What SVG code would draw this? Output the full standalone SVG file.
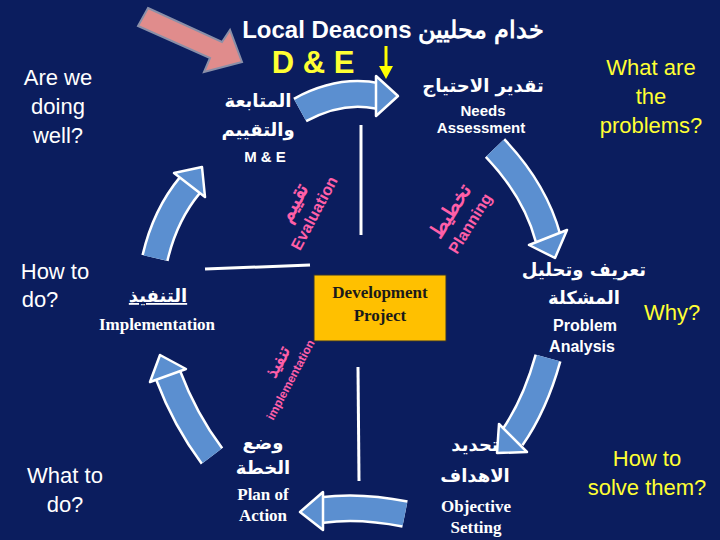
<svg xmlns="http://www.w3.org/2000/svg" width="720" height="540" viewBox="0 0 720 540">
<style>
.w{fill:#fff;font-family:"Liberation Sans","Noto Sans",sans-serif;font-weight:bold;text-anchor:middle}
.ar{fill:#fff;font-family:"DejaVu Sans","Noto Sans",sans-serif;font-weight:bold;text-anchor:middle;font-size:18px}
.t{fill:#fff;font-family:"Liberation Serif",serif;font-weight:bold;text-anchor:middle;font-size:17px}
.q{fill:#fff;font-family:"Liberation Sans",sans-serif;font-size:22px;text-anchor:middle}
.y{fill:#ffff33;font-family:"Liberation Sans",sans-serif;font-size:22px;text-anchor:middle}
.p{fill:#ff5fa8;font-family:"Liberation Sans",sans-serif;font-weight:bold;text-anchor:middle}
.bo{fill:none;stroke:#fff;stroke-width:28}
.bi{fill:none;stroke:#5b8fd0;stroke-width:23}
.hd{fill:#5b8fd0;stroke:#fff;stroke-width:2.5;stroke-linejoin:round}
.ln{stroke:#fff;stroke-width:3}
</style>
<rect width="720" height="540" fill="#0b1d5e"/>
<g id="connectors">
<path class="bo" d="M300,110 Q340,88 378,96"/><path class="bi" d="M300,110 Q340,88 378,96"/><polygon class="hd" points="398,96 376,76 376,116"/>
<path class="bo" d="M495,148 Q535,190 548,238"/><path class="bi" d="M495,148 Q535,190 548,238"/><polygon class="hd" points="555,258 567,230 529,245"/>
<path class="bo" d="M548,358 Q535,405 512,438"/><path class="bi" d="M548,358 Q535,405 512,438"/><polygon class="hd" points="497,453 527,452 499,424"/>
<path class="bo" d="M405,514 Q360,505 322,510"/><path class="bi" d="M405,514 Q360,505 322,510"/><polygon class="hd" points="300,512 323,492 323,530"/>
<path class="bo" d="M212,456 Q185,420 168,375"/><path class="bi" d="M212,456 Q185,420 168,375"/><polygon class="hd" points="160,355 186,369 150,382"/>
<path class="bo" d="M155,258 Q165,215 190,185"/><path class="bi" d="M155,258 Q165,215 190,185"/><polygon class="hd" points="202,167 205,197 174,173"/>
<line class="ln" x1="361" y1="125" x2="361" y2="235"/>
<line class="ln" x1="205" y1="269" x2="310" y2="265"/>
<line class="ln" x1="358" y1="367" x2="359" y2="481"/>
<polygon points="148,8 222,42 230,30 242,62 204,72 210,58 138,26" fill="#e08c8c" stroke="#8a8fa8" stroke-width="2"/>
<line x1="386" y1="46" x2="386" y2="70" stroke="#ffff00" stroke-width="3"/>
<polygon points="379,66 393,66 386,79" fill="#ffff00"/>
</g>
<g id="title"><text class="w" x="393" y="38" font-size="24">Local Deacons خدام محليين</text>
<text class="w" x="313" y="73" font-size="31" style="fill:#ffff33">D &amp; E</text></g>
<g id="me"><text class="ar" x="258" y="107" font-size="20">المتابعة</text><text class="ar" x="258" y="136" font-size="20">والتقييم</text><text class="w" x="265" y="162" font-size="15">M &amp; E</text></g>
<g id="needs"><text class="ar" x="483" y="92">تقدير الاحتياج</text><text class="w" x="483" y="116" font-size="15">Needs</text><text class="w" x="481" y="133" font-size="15">Assessment</text></g>
<g id="problem"><text class="ar" x="584" y="276">تعريف وتحليل</text><text class="ar" x="584" y="304">المشكلة</text><text class="w" x="585" y="331" font-size="16">Problem</text><text class="w" x="582" y="352" font-size="16">Analysis</text></g>
<g id="objective"><text class="ar" x="475" y="451">تحديد</text><text class="ar" x="475" y="482">الاهداف</text><text class="t" x="476" y="512">Objective</text><text class="t" x="476" y="533">Setting</text></g>
<g id="plan"><text class="ar" x="263" y="449">وضع</text><text class="ar" x="263" y="474">الخطة</text><text class="t" x="263" y="500">Plan of</text><text class="t" x="263" y="521">Action</text></g>
<g id="impl"><text class="ar" x="158" y="302" text-decoration="underline">التنفيذ</text><text class="t" x="157" y="330">Implementation</text></g>
<g id="project"><rect x="314" y="275" width="132" height="66" fill="#ffc000" stroke="#333" stroke-width="1"/>
<text class="t" x="380" y="298" style="fill:#1a1a1a" font-size="18">Development</text><text class="t" x="380" y="321" style="fill:#1a1a1a" font-size="18">Project</text></g>
<g id="phases">
<g transform="translate(312,212) rotate(-62)"><text class="p" x="0" y="-14" font-size="20">تقييم</text><text class="p" x="0" y="8" font-size="16">Evaluation</text></g>
<g transform="translate(468,222) rotate(-58)"><text class="p" x="0" y="-14" font-size="20">تخطيط</text><text class="p" x="0" y="8" font-size="16">Planning</text></g>
<g transform="translate(287,378) rotate(-62)"><text class="p" x="10" y="-10" font-size="17">تنفيذ</text><text class="p" x="0" y="8" font-size="12">implementation</text></g>
</g>
<g id="questions">
<text class="q" x="58" y="85">Are we</text><text class="q" x="58" y="114">doing</text><text class="q" x="58" y="143">well?</text>
<text class="q" x="55" y="279">How to</text><text class="q" x="40" y="307">do?</text>
<text class="q" x="65" y="483">What to</text><text class="q" x="65" y="512">do?</text>
<text class="y" x="651" y="75">What are</text><text class="y" x="651" y="104">the</text><text class="y" x="651" y="133">problems?</text>
<text class="y" x="672" y="320">Why?</text>
<text class="y" x="647" y="466">How to</text><text class="y" x="647" y="495">solve them?</text>
</g>
</svg>
